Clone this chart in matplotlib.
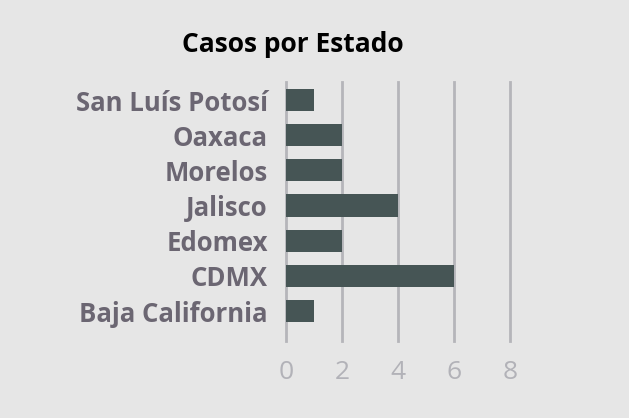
import matplotlib.pyplot as plt

# Datos del gráfico
estados = ['Baja California', 'CDMX', 'Edomex', 'Jalisco', 'Morelos', 'Oaxaca', 'San Luís Potosí']
casos = [1, 6, 2, 4, 2, 2, 1]
ticks = [0, 2, 4, 6, 8]

plt.rcParams['font.family'] = ['Open Sans', 'DejaVu Sans']

fig = plt.figure(figsize=(6.29, 4.18), dpi=100)
fig.patch.set_facecolor('#e6e6e6')

ax = fig.add_axes([286 / 629, 77 / 418, 224 / 629, 259 / 418])
ax.set_facecolor('none')

# Líneas de la cuadrícula
for t in ticks:
    ax.axvline(t, color='#b5b5ba', linewidth=2, zorder=0, clip_on=False)

posiciones = list(range(len(estados)))
ax.barh(posiciones, casos, height=0.63, color='#465555', zorder=2)

ax.set_xlim(0, 8)
ax.set_ylim(-0.853, 6.512)
ax.set_yticks(posiciones)
ax.set_yticklabels(estados, fontsize=18.5, fontweight='bold', color='#6b6672')
ax.set_xticks(ticks)
ax.set_xticklabels([str(t) for t in ticks], fontsize=19, color='#b2b2b8')
ax.tick_params(axis='both', length=0)
ax.tick_params(axis='y', pad=13)
ax.tick_params(axis='x', pad=14)
for s in ax.spines.values():
    s.set_visible(False)

fig.text(293 / 629, 1 - 44 / 418, 'Casos por Estado', ha='center', va='center',
         fontsize=19, fontweight='bold', color='black')

fig.savefig('out.png', dpi=100, facecolor=fig.get_facecolor())
